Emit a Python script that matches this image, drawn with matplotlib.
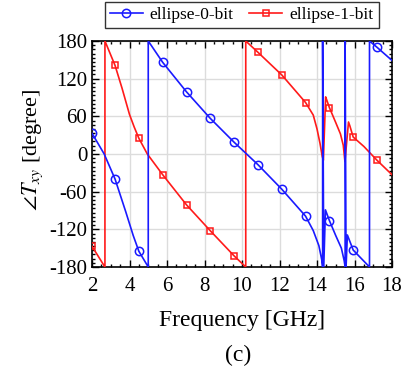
import numpy as np
import matplotlib
matplotlib.use("Agg")
import matplotlib.pyplot as plt
from matplotlib.ticker import MultipleLocator

plt.rcParams['font.family'] = ['Liberation Serif', 'DejaVu Serif']
plt.rcParams['mathtext.fontset'] = 'stix'
plt.rcParams['axes.unicode_minus'] = False

# frequencies where the markers sit (both curves)
mark_freq = [2.0, 3.23, 4.5, 5.77, 7.04, 8.3, 9.57, 10.85, 12.12, 13.39, 14.66, 15.93, 17.2]

# ellipse-0-bit phase (wrapped to +-180)
freq0 = [2.0, 2.65, 3.23, 3.8, 4.2, 4.5, 5.0, 5.0, 5.77, 7.04, 8.3, 9.57, 10.85,
         12.12, 13.39, 13.8, 14.1, 14.25, 14.3, 14.3, 14.36, 14.45, 14.66, 15.0,
         15.3, 15.45, 15.5, 15.5, 15.55, 15.62, 15.93, 16.8, 16.8, 17.2, 18.0]
phase0 = [33, 0, -40, -92, -130, -155, -180, 180, 146, 99, 57, 19, -17,
          -56, -99, -122, -146, -168, -180, 180, -180, -89, -106, -130,
          -150, -170, -180, 180, -180, -129, -153, -180, 180, 170, 149]

# ellipse-1-bit phase
freq1 = [2.0, 2.69, 2.69, 3.23, 3.6, 3.8, 4.0, 4.25, 4.5, 4.95, 5.77, 7.04, 8.3,
         9.57, 10.2, 10.2, 10.85, 12.12, 13.39, 13.8, 14.0, 14.16, 14.28, 14.34,
         14.46, 14.52, 14.66, 15.0, 15.25, 15.4, 15.49, 15.68, 15.75, 15.93,
         16.5, 17.2, 18.0]
phase1 = [-147, -180, 180, 141, 105, 84, 63, 43, 25, 0, -33, -81, -122,
          -162, -180, 180, 162, 126, 82, 62, 40, 17, -4, -10,
          91, 86, 74, 50, 32, 14, -12, 51, 45, 27,
          12, -10, -33]


def marker_idx(freq):
    return [i for i, f in enumerate(freq) if f in mark_freq]


fig = plt.figure(figsize=(4.08, 3.69), dpi=100)
ax = fig.add_axes([92 / 408, 1 - 267 / 369, 300 / 408, 226 / 369])

ax.plot(freq1, phase1, color='#ff1a1a', lw=1.2, marker='s', ms=4.2, mfc='none',
        mew=1.1, markevery=marker_idx(freq1), label='ellipse-1-bit', zorder=3)
ax.plot(freq0, phase0, color='#1a1aff', lw=1.2, marker='o', ms=6, mfc='none',
        mew=1.1, markevery=marker_idx(freq0), label='ellipse-0-bit', zorder=4)

ax.set_xlim(2, 18)
ax.set_ylim(-180, 180)
ax.xaxis.set_major_locator(MultipleLocator(2))
ax.xaxis.set_minor_locator(MultipleLocator(0.5))
ax.yaxis.set_major_locator(MultipleLocator(60))
ax.yaxis.set_minor_locator(MultipleLocator(6.6667))
ax.grid(True, which='major', color='#dcdcdc', lw=1.0)
ax.set_axisbelow(True)
ax.tick_params(which='both', direction='in', top=True, right=True, labelsize=15,
               width=1.0)
ax.tick_params(axis='x', which='major', pad=7)
ax.tick_params(which='major', length=5)
ax.tick_params(which='minor', length=2.5)
for s in ax.spines.values():
    s.set_linewidth(1.2)

ax.set_xlabel('Frequency [GHz]', fontsize=17, labelpad=10)
ax.set_ylabel(r'$\angle T_{xy}$ [degree]', fontsize=16)
ax.yaxis.set_label_coords(-0.157, 0.52)

h, l = ax.get_legend_handles_labels()
leg = fig.legend(h[::-1], l[::-1], loc='center', bbox_to_anchor=(0.592, 0.959),
                 ncol=2, fontsize=12.5, frameon=True, fancybox=False,
                 edgecolor='black', handlelength=1.9, columnspacing=0.9,
                 handletextpad=0.4, borderpad=0.3, borderaxespad=0)
leg.get_frame().set_linewidth(1.0)

fig.text(0.583, 0.038, '(c)', ha='center', va='center', fontsize=17)

fig.savefig('out.png', dpi=100)
